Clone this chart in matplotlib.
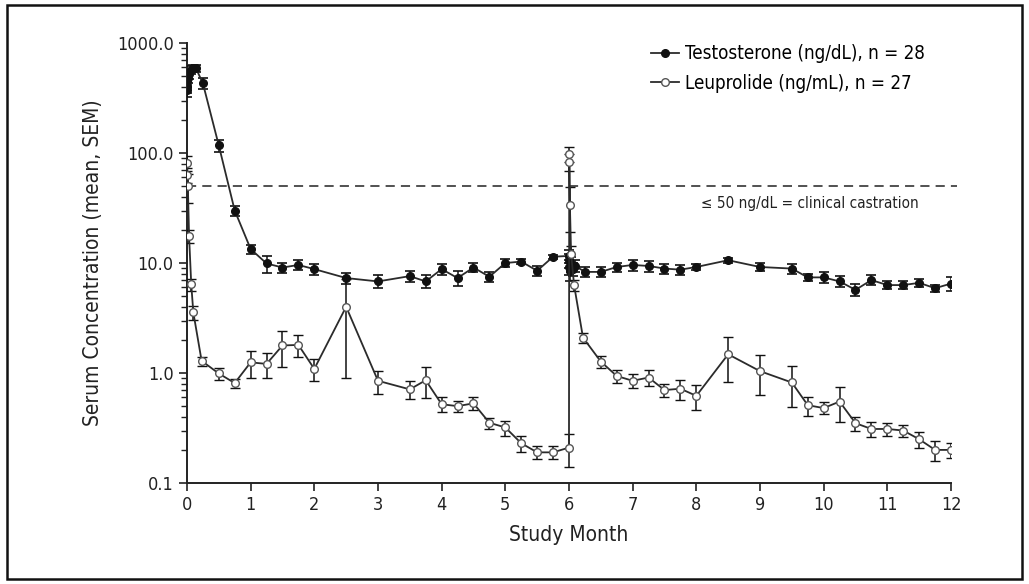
import matplotlib
matplotlib.use("Agg")
import matplotlib.pyplot as plt
from matplotlib.ticker import FixedLocator, LogLocator, NullFormatter, FuncFormatter
from matplotlib.lines import Line2D
import matplotlib.patches as mpatches

plt.rcParams['font.family'] = ['DejaVu Sans']
plt.rcParams['font.stretch'] = 'condensed'

# Testosterone (ng/dL), months
t_month = [0.0, 0.004, 0.008, 0.014, 0.033, 0.067, 0.1, 0.14, 0.25, 0.5, 0.75, 1.0,
           1.25, 1.5, 1.75, 2.0, 2.5, 3.0, 3.5, 3.75, 4.0, 4.25, 4.5, 4.75, 5.0,
           5.25, 5.5, 5.75, 6.0, 6.004, 6.008, 6.014, 6.033, 6.067, 6.1, 6.25, 6.5,
           6.75, 7.0, 7.25, 7.5, 7.75, 8.0, 8.5, 9.0, 9.5, 9.75, 10.0, 10.25, 10.5,
           10.75, 11.0, 11.25, 11.5, 11.75, 12.0]
t_mean = [400, 370, 450, 480, 520, 570, 590, 590, 430, 117, 30, 13.4,
          9.9, 9.1, 9.6, 8.8, 7.3, 6.8, 7.6, 6.8, 8.8, 7.3, 9.1, 7.5, 10.0,
          10.3, 8.5, 11.4, 11.6, 10.6, 9.2, 8.4, 9.8, 8.8, 9.4, 8.3, 8.3,
          9.2, 9.6, 9.4, 8.9, 8.7, 9.2, 10.6, 9.2, 8.9, 7.4, 7.4, 6.8, 5.7,
          7.0, 6.3, 6.3, 6.6, 5.9, 6.5]
t_sem = [50, 45, 55, 50, 50, 50, 40, 40, 50, 15, 3, 1.3,
         1.8, 1.0, 1.0, 1.0, 0.8, 0.9, 0.9, 0.9, 1.0, 1.1, 0.9, 0.8, 0.8,
         0.6, 0.9, 0.5, 1.5, 1.5, 1.5, 1.5, 1.5, 1.2, 1.2, 0.9, 0.9,
         0.9, 1.1, 1.1, 0.9, 0.9, 0.6, 0.6, 0.7, 0.9, 0.6, 0.8, 0.8, 0.7,
         0.7, 0.5, 0.5, 0.6, 0.4, 0.9]

# Leuprolide (ng/mL), months
l_month = [0.004, 0.008, 0.014, 0.033, 0.067, 0.1, 0.23, 0.5, 0.75, 1.0, 1.25,
           1.5, 1.75, 2.0, 2.5, 3.0, 3.5, 3.75, 4.0, 4.25, 4.5, 4.75, 5.0, 5.25,
           5.5, 5.75, 6.0, 6.004, 6.008, 6.014, 6.033, 6.08, 6.22, 6.5, 6.75, 7.0,
           7.25, 7.5, 7.75, 8.0, 8.5, 9.0, 9.5, 9.75, 10.0, 10.25, 10.5, 10.75,
           11.0, 11.25, 11.5, 11.75, 12.0]
l_mean = [81, 63, 50, 17.6, 6.4, 3.55, 1.29, 0.99, 0.81, 1.25, 1.21,
          1.78, 1.8, 1.09, 4.0, 0.85, 0.71, 0.86, 0.52, 0.50, 0.53, 0.353, 0.32, 0.23,
          0.19, 0.19, 0.21, 98, 83, 34, 12.2, 6.3, 2.1, 1.27, 0.94, 0.85,
          0.91, 0.70, 0.72, 0.62, 1.48, 1.04, 0.82, 0.51, 0.48, 0.55, 0.35, 0.31,
          0.31, 0.30, 0.25, 0.20, 0.20]
l_sem = [12, 10, 15, 2.5, 0.8, 0.5, 0.12, 0.12, 0.08, 0.35, 0.3,
         0.65, 0.4, 0.25, 3.1, 0.2, 0.13, 0.27, 0.08, 0.06, 0.07, 0.04, 0.05, 0.04,
         0.025, 0.025, 0.07, 15, 15, 15, 2.0, 0.7, 0.22, 0.16, 0.13, 0.12,
         0.15, 0.1, 0.15, 0.16, 0.65, 0.41, 0.33, 0.1, 0.06, 0.19, 0.05, 0.05,
         0.04, 0.04, 0.04, 0.04, 0.03]

x_ticks = list(range(0, 13))
y_ticks = [0.1, 1.0, 10.0, 100.0, 1000.0]
castration_level = 50
labels = ['Testosterone (ng/dL), n = 28', 'Leuprolide (ng/mL), n = 27']

fig = plt.figure(figsize=(10.29, 5.84), dpi=100)
ax = fig.add_axes([0.1817, 0.1729, 0.7425, 0.7535])

line_col = '#2b2b2b'
ax.errorbar(t_month, t_mean, yerr=t_sem, color=line_col, lw=1.3, marker='o',
            ms=5.5, mfc='#111111', mec='#111111', ecolor='#111111', elinewidth=1.1,
            capsize=3.5, capthick=1.2, zorder=3)
ax.errorbar(l_month, l_mean, yerr=l_sem, color=line_col, lw=1.3, marker='o',
            ms=5.5, mfc='white', mec='#555555', mew=1.0, ecolor='#111111',
            elinewidth=1.1, capsize=3.5, capthick=1.2, zorder=3)

ax.plot([0, 12.1], [castration_level, castration_level], ls=(0, (6, 4)),
        color='#222222', lw=1.1, zorder=1, clip_on=False)
ax.text(9.78, 41, '≤ 50 ng/dL = clinical castration', ha='center', va='top',
        fontsize=11, color='#222222')

ax.set_yscale('log')
ax.set_ylim(0.1, 1000)
ax.set_xlim(0, 12)
ax.yaxis.set_major_locator(FixedLocator(y_ticks))
ax.yaxis.set_minor_locator(LogLocator(base=10, subs=range(2, 10)))
ax.yaxis.set_minor_formatter(NullFormatter())
ax.yaxis.set_major_formatter(FuncFormatter(lambda v, p: f'{v:.1f}'))
ax.set_xticks(x_ticks)
ax.set_xticklabels([str(v) for v in x_ticks])

for s in ['top', 'right']:
    ax.spines[s].set_visible(False)
for s in ['left', 'bottom']:
    ax.spines[s].set_linewidth(1.4)
    ax.spines[s].set_color('#222222')
ax.tick_params(axis='both', which='major', direction='out', length=6, width=1.2,
               labelsize=13, colors='#222222')
ax.tick_params(axis='y', which='minor', direction='out', length=4, width=1.0,
               colors='#222222')

ax.set_xlabel('Study Month', fontsize=15, color='#222222', labelpad=8)
ax.set_ylabel('Serum Concentration (mean, SEM)', fontsize=15, color='#222222',
              labelpad=10)

handles = [Line2D([], [], color=line_col, lw=1.3, marker='o', ms=5.5,
                  mfc='#111111', mec='#111111'),
           Line2D([], [], color=line_col, lw=1.3, marker='o', ms=5.5,
                  mfc='white', mec='#555555', mew=1.0)]
leg = ax.legend(handles, labels, loc='upper left', bbox_to_anchor=(0.585, 1.035),
                frameon=False, fontsize=13.5, handlelength=1.5,
                handletextpad=0.3, labelspacing=0.55)

fig.patches.append(mpatches.Rectangle((0.007, 0.009), 0.986, 0.982,
                                      transform=fig.transFigure, fill=False,
                                      lw=1.8, ec='#111111'))

fig.savefig('out.png', dpi=100)
